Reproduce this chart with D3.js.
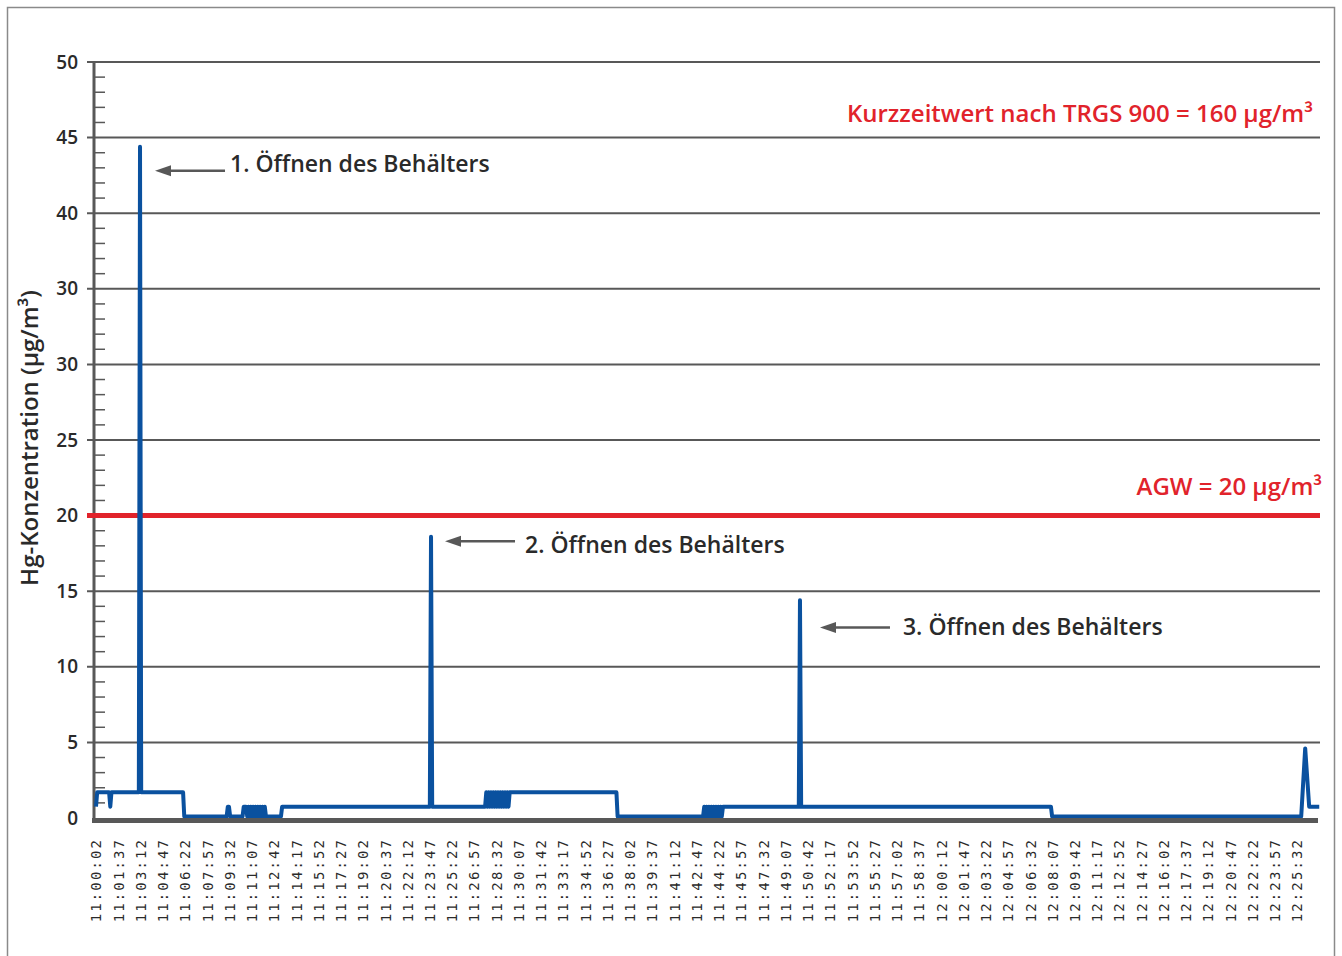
<!DOCTYPE html>
<html>
<head>
<meta charset="utf-8">
<script src="https://cdn.jsdelivr.net/npm/d3@7"></script>
<style>
  body { margin: 0; background: #fff; }
  svg { display: block; font-family: "Open Sans", sans-serif; }
</style>
</head>
<body>
<div id="chart"></div>
<script>
const sampleTimes = [
  "11:00:02", "11:00:07", "11:00:58", "11:01:03", "11:01:08",
  "11:03:05", "11:03:10", "11:03:15", "11:06:14", "11:06:19",
  "11:09:20", "11:09:25", "11:09:30", "11:09:35",
  "11:10:28", "11:10:33", "11:10:43", "11:10:48", "11:10:53", "11:10:58",
  "11:11:03", "11:11:08", "11:11:13", "11:11:18", "11:11:23", "11:11:28",
  "11:11:33", "11:11:38", "11:11:43", "11:11:48", "11:11:53", "11:11:58",
  "11:12:03", "11:12:08", "11:13:12", "11:13:17",
  "11:23:48", "11:23:53", "11:23:58",
  "11:27:44", "11:27:49", "11:27:54", "11:27:59", "11:28:04", "11:28:09",
  "11:28:14", "11:28:19", "11:28:24", "11:28:29", "11:28:34", "11:28:39",
  "11:28:44", "11:28:49", "11:28:54", "11:28:59", "11:29:04", "11:29:09",
  "11:29:14", "11:29:19", "11:29:24", "11:29:29",
  "11:37:05", "11:37:10",
  "11:43:15", "11:43:20", "11:43:25", "11:43:30", "11:43:35", "11:43:40",
  "11:43:45", "11:43:50", "11:43:55", "11:44:00", "11:44:05", "11:44:10",
  "11:44:15", "11:44:20", "11:44:25", "11:44:30", "11:44:35", "11:44:40",
  "11:50:04", "11:50:09", "11:50:14",
  "12:08:01", "12:08:06",
  "12:25:50", "12:26:07", "12:26:24", "12:27:07"
];
const hgValues = [
  0.75, 1.7, 1.7, 0.75, 1.7,
  1.7, 44.4, 1.7, 1.7, 0.1,
  0.1, 0.75, 0.75, 0.1,
  0.1, 0.75, 0.75, 0.1, 0.75, 0.1,
  0.75, 0.1, 0.75, 0.1, 0.75, 0.1,
  0.75, 0.1, 0.75, 0.1, 0.75, 0.1,
  0.75, 0.1, 0.1, 0.75,
  0.75, 18.6, 0.75,
  0.75, 1.7, 0.75, 1.7, 0.75, 1.7,
  0.75, 1.7, 0.75, 1.7, 0.75, 1.7,
  0.75, 1.7, 0.75, 1.7, 0.75, 1.7,
  0.75, 1.7, 0.75, 1.7,
  1.7, 0.1,
  0.1, 0.75, 0.1, 0.75, 0.1, 0.75,
  0.1, 0.75, 0.1, 0.75, 0.1, 0.75,
  0.1, 0.75, 0.1, 0.75, 0.1, 0.75,
  0.75, 14.4, 0.75,
  0.75, 0.1,
  0.1, 4.6, 0.75, 0.75
];

const xTickLabels = [
  "11:00:02", "11:01:37", "11:03:12", "11:04:47", "11:06:22", "11:07:57",
  "11:09:32", "11:11:07", "11:12:42", "11:14:17", "11:15:52", "11:17:27",
  "11:19:02", "11:20:37", "11:22:12", "11:23:47", "11:25:22", "11:26:57",
  "11:28:32", "11:30:07", "11:31:42", "11:33:17", "11:34:52", "11:36:27",
  "11:38:02", "11:39:37", "11:41:12", "11:42:47", "11:44:22", "11:45:57",
  "11:47:32", "11:49:07", "11:50:42", "11:52:17", "11:53:52", "11:55:27",
  "11:57:02", "11:58:37", "12:00:12", "12:01:47", "12:03:22", "12:04:57",
  "12:06:32", "12:08:07", "12:09:42", "12:11:17", "12:12:52", "12:14:27",
  "12:16:02", "12:17:37", "12:19:12", "12:20:47", "12:22:22", "12:23:57",
  "12:25:32"
];
const yTicks = [0, 5, 10, 15, 20, 25, 30, 35, 40, 45, 50];
const yTickLabels = ["0", "5", "10", "15", "20", "25", "30", "30", "40", "45", "50"];
const yTitle = "Hg-Konzentration (µg/m³)";

const agwValue = 20;
const agwLabel = "AGW = 20 µg/m³";
const kzwLabel = "Kurzzeitwert nach TRGS 900 = 160 µg/m³";

const annotationTexts = ["1. Öffnen des Behälters", "2. Öffnen des Behälters", "3. Öffnen des Behälters"];
const annotationTimes = ["11:03:10", "11:23:53", "11:50:09"];
const annotationValues = [42.8, 18.3, 12.6];

const width = 1342;
const height = 956;
const grey = "#585858";
const blue = "#0a519f";
const red = "#e1232b";

const svg = d3
  .select("#chart")
  .append("svg")
  .attr("width", width)
  .attr("height", height);

// outer frame
svg
  .append("rect")
  .attr("x", 7.5)
  .attr("y", 7.5)
  .attr("width", 1327)
  .attr("height", 980)
  .attr("fill", "none")
  .attr("stroke", "#8a8a8a")
  .attr("stroke-width", 1.5);

const parseTime = d3.timeParse("%H:%M:%S");
const data = sampleTimes.map((t, i) => ({ t: parseTime(t), v: hgValues[i] }));

const x = d3
  .scaleTime()
  .domain([parseTime(xTickLabels[0]), parseTime(xTickLabels[xTickLabels.length - 1])])
  .range([96, 1297]);

const y = d3.scaleLinear().domain([0, 50]).range([818, 62]);

const gridLeft = 87;
const gridRight = 1320;

// horizontal grid lines
svg
  .append("g")
  .selectAll("line")
  .data(yTicks.filter((d) => d > 0))
  .join("line")
  .attr("x1", gridLeft)
  .attr("x2", gridRight)
  .attr("y1", (d) => y(d))
  .attr("y2", (d) => y(d))
  .attr("stroke", grey)
  .attr("stroke-width", 2);

// minor ticks
svg
  .append("g")
  .selectAll("line")
  .data(d3.range(1, 50).filter((d) => d % 5 !== 0))
  .join("line")
  .attr("x1", 95)
  .attr("x2", 105)
  .attr("y1", (d) => y(d))
  .attr("y2", (d) => y(d))
  .attr("stroke", grey)
  .attr("stroke-width", 1.5);

// y axis line
svg
  .append("line")
  .attr("x1", 94)
  .attr("x2", 94)
  .attr("y1", y(50) - 1)
  .attr("y2", y(0) + 4)
  .attr("stroke", grey)
  .attr("stroke-width", 3);

// y tick labels
const yAxis = svg
  .append("g")
  .attr("transform", `translate(${gridLeft},0)`)
  .call(
    d3
      .axisLeft(y)
      .tickValues(yTicks)
      .tickFormat((d, i) => yTickLabels[i])
      .tickSize(0)
      .tickPadding(9)
  );
yAxis.select(".domain").remove();
yAxis
  .selectAll("text")
  .attr("fill", "#2a2a2a")
  .style("font-family", '"Open Sans", sans-serif')
  .style("font-size", "19px")
  .style("font-weight", 600);

// y title
svg
  .append("text")
  .attr("transform", "translate(38,438) rotate(-90)")
  .attr("text-anchor", "middle")
  .attr("fill", "#2a2a2a")
  .style("font-size", "24px")
  .style("font-weight", 600)
  .text(yTitle);

// x axis labels
const xAxis = svg
  .append("g")
  .attr("transform", "translate(0,822)")
  .call(
    d3
      .axisBottom(x)
      .tickValues(xTickLabels.map(parseTime))
      .tickFormat(d3.timeFormat("%H:%M:%S"))
      .tickSize(0)
  );
xAxis.select(".domain").remove();
xAxis
  .selectAll("text")
  .attr("transform", "rotate(-90)")
  .attr("x", -16)
  .attr("y", 0)
  .attr("dy", "0.35em")
  .attr("text-anchor", "end")
  .attr("fill", "#2a2a2a")
  .style("font-family", '"DejaVu Sans Mono", monospace')
  .style("font-size", "14px")
  .style("letter-spacing", "2.1px");

// AGW line
svg
  .append("line")
  .attr("x1", gridLeft)
  .attr("x2", gridRight)
  .attr("y1", y(agwValue))
  .attr("y2", y(agwValue))
  .attr("stroke", red)
  .attr("stroke-width", 5);

// measurement line
const line = d3
  .line()
  .x((d) => x(d.t))
  .y((d) => y(d.v));

svg
  .append("path")
  .datum(data)
  .attr("d", line)
  .attr("fill", "none")
  .attr("stroke", blue)
  .attr("stroke-width", 4)
  .attr("stroke-linejoin", "round");

// zero baseline drawn over the data
svg
  .append("line")
  .attr("x1", 92)
  .attr("x2", 1318)
  .attr("y1", y(0) + 2.5)
  .attr("y2", y(0) + 2.5)
  .attr("stroke", grey)
  .attr("stroke-width", 5);

// red labels
svg
  .append("text")
  .attr("x", 1313)
  .attr("y", 122)
  .attr("text-anchor", "end")
  .attr("fill", red)
  .style("font-size", "24px")
  .style("font-weight", 600)
  .text(kzwLabel);

svg
  .append("text")
  .attr("x", 1322)
  .attr("y", 495)
  .attr("text-anchor", "end")
  .attr("fill", red)
  .style("font-size", "24px")
  .style("font-weight", 600)
  .text(agwLabel);

// annotations with arrows
const tipGap = [15, 14, 20];
const textGap = [75, 80, 83];
const labelDy = [1, 12, 8];
const arrowLen = 70;

annotationTexts.forEach((label, i) => {
  const tip = x(parseTime(annotationTimes[i])) + tipGap[i];
  const ay = y(annotationValues[i]);
  const g = svg.append("g");

  g.append("line")
    .attr("x1", tip + 12)
    .attr("x2", tip + arrowLen)
    .attr("y1", ay)
    .attr("y2", ay)
    .attr("stroke", grey)
    .attr("stroke-width", 2.5);

  g.append("path")
    .attr("d", `M${tip},${ay} L${tip + 16},${ay - 5.5} L${tip + 16},${ay + 5.5} Z`)
    .attr("fill", grey);

  g.append("text")
    .attr("x", tip + textGap[i])
    .attr("y", ay + labelDy[i])
    .attr("fill", "#2a2a2a")
    .style("font-size", "23px")
    .style("font-weight", 600)
    .text(label);
});
</script>
</body>
</html>
